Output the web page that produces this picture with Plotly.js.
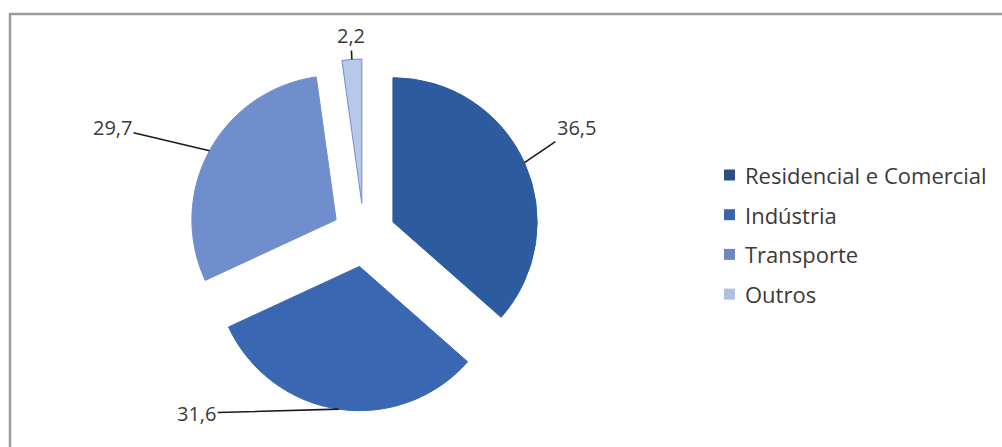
<!DOCTYPE html>
<html>
<head>
<meta charset="utf-8">
<script src="https://cdn.plot.ly/plotly-3.0.1.min.js"></script>
<style>
html,body{margin:0;padding:0;background:#fff;}
#chart{width:1002px;height:447px;}
</style>
</head>
<body>
<div id="chart"></div>
<script>
// ---- data ----
var categories = ["Residencial e Comercial", "Indústria", "Transporte", "Outros"];
var values = [36.5, 31.6, 29.7, 2.2];
var sliceColors = ["#2d5b9f", "#3a67b2", "#6f8ecb", "#b8c8e8"];
var legendColors = ["#2f4f80", "#3b63a8", "#7088ba", "#b0bfdc"];

// ---- layout geometry (pixels) ----
var W = 1002, H = 447;
var cx = 364, cy = 235;          // pie centre
var outer = 176;                 // r * (1 + pull)
var pull = 0.22;
var labelOffsets = [[52, -35], [-142, 4], [-97, -23], [-1, -24]];

function px(x){ return x / W; }
function py(y){ return 1 - y / H; }
function fmt(v){ return v.toFixed(1).replace('.', ','); }

var trace = {
  type: 'pie',
  labels: categories,
  values: values,
  sort: false,
  direction: 'clockwise',
  rotation: 0,
  pull: values.map(function(){ return pull; }),
  marker: {
    colors: sliceColors,
    line: { color: ["#2d5b9f", "#3a67b2", "#6f8ecb", "#6f8ecb"], width: 1 }
  },
  textinfo: 'none',
  hoverinfo: 'label+value',
  showlegend: false,
  domain: { x: [px(cx - outer), px(cx + outer)], y: [py(cy + outer), py(cy - outer)] }
};

// labels with leader lines, tip computed from data angles
var total = values.reduce(function(a, b){ return a + b; }, 0);
var annotations = [];
var cum = 0;
values.forEach(function(v, i){
  var mid = (cum + v / 2) / total * 2 * Math.PI;
  cum += v;
  var tx = cx + outer * Math.sin(mid);
  var ty = cy - outer * Math.cos(mid);
  annotations.push({
    xref: 'paper', yref: 'paper',
    x: px(tx), y: py(ty),
    ax: labelOffsets[i][0], ay: labelOffsets[i][1],
    text: fmt(v),
    showarrow: true, arrowhead: 0, arrowwidth: 1.6, arrowcolor: '#1a1a1a', standoff: 0,
    font: { family: 'Open Sans, sans-serif', size: 20, color: '#3a3a3a' }
  });
});

// custom legend
var shapes = [{
  type: 'rect', xref: 'paper', yref: 'paper',
  x0: px(10), x1: 1.02, y0: -0.02, y1: py(14),
  line: { color: '#9a9a9a', width: 2.5 }, fillcolor: 'rgba(0,0,0,0)'
}];
var legX = 729.5, legY0 = 175, legStep = 39.7, sq = 11;
categories.forEach(function(c, i){
  var y = legY0 + i * legStep;
  shapes.push({
    type: 'rect', xref: 'paper', yref: 'paper',
    x0: px(legX - sq / 2), x1: px(legX + sq / 2),
    y0: py(y + sq / 2), y1: py(y - sq / 2),
    fillcolor: legendColors[i], line: { width: 0 }
  });
  annotations.push({
    xref: 'paper', yref: 'paper', x: px(743), y: py(y),
    xanchor: 'left', yanchor: 'middle', showarrow: false,
    text: c,
    font: { family: 'Open Sans, sans-serif', size: 22, color: '#3a3a3a' }
  });
});

var layout = {
  width: W, height: H,
  margin: { l: 0, r: 0, t: 0, b: 0 },
  paper_bgcolor: '#ffffff',
  showlegend: false,
  annotations: annotations,
  shapes: shapes
};

Plotly.newPlot('chart', [trace], layout, { displayModeBar: false, staticPlot: true });
</script>
</body>
</html>
